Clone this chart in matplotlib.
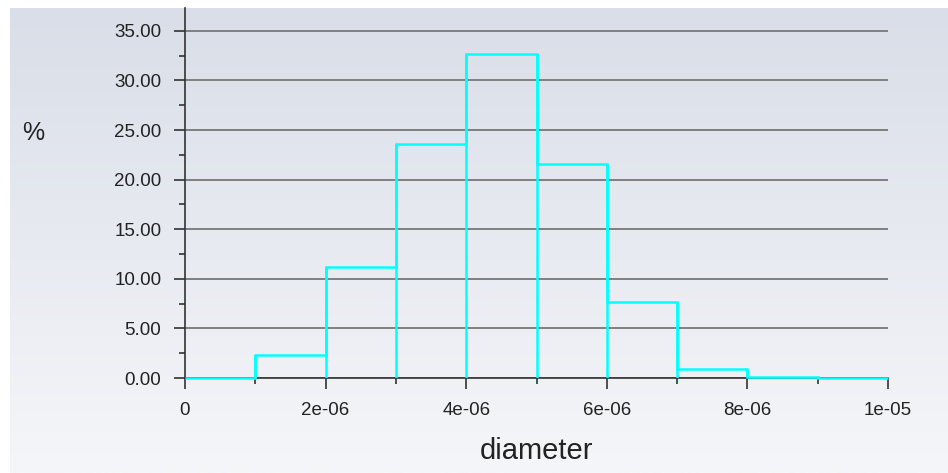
import numpy as np
import matplotlib.pyplot as plt
from matplotlib.colors import LinearSegmentedColormap

# histogram data
bin_edges = [0, 1e-6, 2e-6, 3e-6, 4e-6, 5e-6, 6e-6, 7e-6, 8e-6, 9e-6, 1e-5]
percent = [0.0, 2.3, 11.2, 23.6, 32.65, 21.6, 7.63, 0.9, 0.13, 0.03]
y_ticks = [0, 5, 10, 15, 20, 25, 30, 35]
x_ticks = [0, 2e-6, 4e-6, 6e-6, 8e-6, 1e-5]
x_labels = ['0', '2e-06', '4e-06', '6e-06', '8e-06', '1e-05']

plt.rcParams['font.family'] = ['Liberation Sans', 'DejaVu Sans']

fig = plt.figure(figsize=(9.48, 4.73), dpi=100)

# gradient background
bg = fig.add_axes([10 / 948, 0, 938 / 948, 465 / 473])
grad = np.linspace(0, 1, 256).reshape(-1, 1)
cmap = LinearSegmentedColormap.from_list('bg', ['#d9dee8', '#f5f6f9'])
bg.imshow(grad, aspect='auto', cmap=cmap, extent=[0, 1, 0, 1])
bg.axis('off')

ax = fig.add_axes([185 / 948, 95 / 473, 703 / 948, 370 / 473])
ax.patch.set_alpha(0)

# step outline plus full-height edges, no bottom line under the bars
cyan = '#00ffff'
ax.stairs(percent, bin_edges, color=cyan, linewidth=1.8, zorder=3, clip_on=False)
p = np.array(percent)
edge_h = np.maximum(np.r_[0, p], np.r_[p, 0])
ax.vlines(bin_edges, 0, edge_h, color=cyan, linewidth=1.8, zorder=3)

ax.set_xlim(0, 1e-5)
ax.set_ylim(0, 37.3)
ax.set_yticks(y_ticks)
ax.set_yticklabels([f'{v:.2f}' for v in y_ticks])
ax.set_yticks(np.arange(2.5, 36, 5), minor=True)
ax.set_xticks(x_ticks)
ax.set_xticklabels(x_labels)
ax.set_xticks(np.arange(1e-6, 1e-5, 2e-6), minor=True)

ax.grid(axis='y', which='major', color='#777777', linewidth=1.3, zorder=1)
for s in ['top', 'right']:
    ax.spines[s].set_visible(False)
for s in ['left', 'bottom']:
    ax.spines[s].set_color('#333333')
    ax.spines[s].set_linewidth(1.2)
    ax.spines[s].set_zorder(2)
ax.tick_params(axis='both', which='major', length=8, width=1.2, color='#333333',
               labelsize=13.5, labelcolor='#222222')
ax.tick_params(axis='both', which='minor', length=4, width=1.2, color='#333333')
ax.tick_params(axis='x', pad=9)
ax.tick_params(axis='y', pad=9)

ax.set_xlabel('diameter', fontsize=21, color='#222222', labelpad=13)
fig.text(33 / 948, 1 - 133 / 473, '%', fontsize=18, color='#222222',
         ha='center', va='center')

fig.savefig('out.png', dpi=100)
